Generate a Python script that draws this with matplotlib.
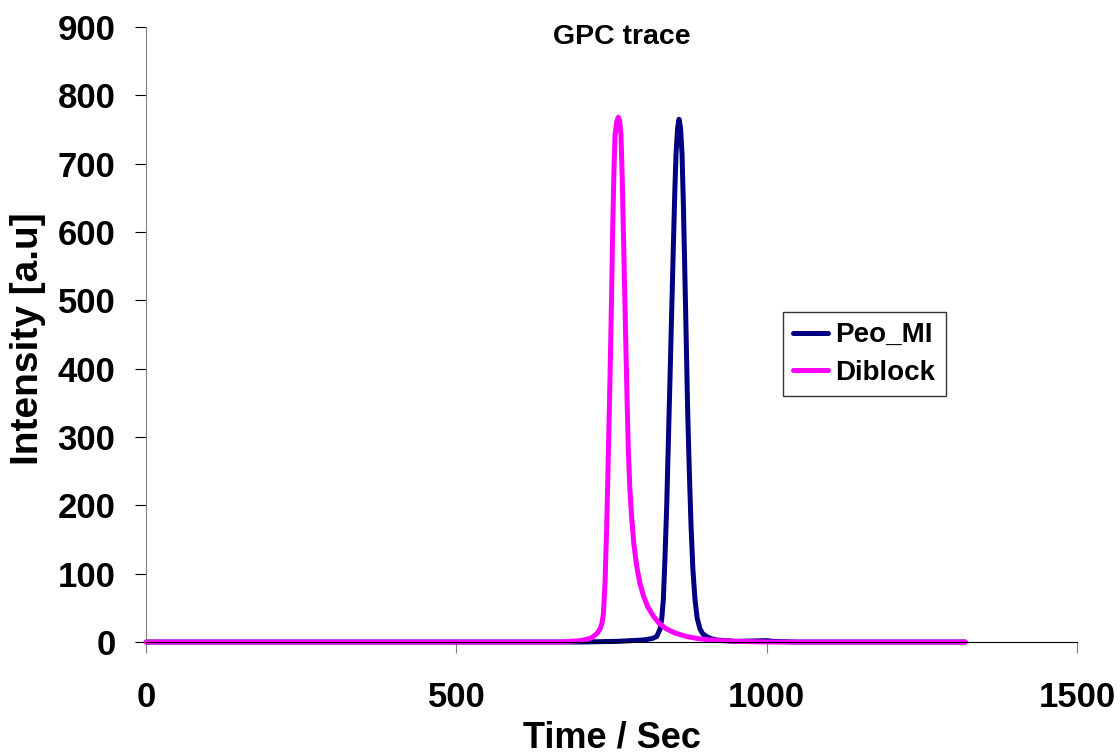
import matplotlib.pyplot as plt

plt.rcParams['font.family'] = ['Liberation Sans', 'DejaVu Sans']
plt.rcParams['font.weight'] = 'bold'

# Peo_MI trace (time in s, intensity in a.u.)
peo_t = [0, 100, 200, 300, 400, 500, 600, 700, 760, 801.3, 815, 822.8, 828.2, 831,
         833.5, 836, 838.9, 841.5, 844.3, 847, 849.6, 852, 853.9, 856.5, 858.8,
         861.2, 863.6, 865.8, 867.9, 870.3, 872.8, 875.5, 878.1, 881, 884.5,
         888, 892.6, 897, 903.4, 910, 919.5, 950, 1000, 1010, 1050, 1100, 1200, 1320]
peo_i = [0, 0, 0, 0, 0, 0, 0, 0, 1, 3, 5, 8, 19, 35,
         62, 120, 198, 290, 388, 485, 578, 660, 714, 752, 765,
         752, 714, 640, 551, 445, 334, 245, 171, 108, 62,
         35, 19, 12, 8, 5, 3, 1, 2, 1, 0, 0, 0, 0]

# Diblock trace
dib_t = [0, 100, 200, 300, 400, 500, 600, 667, 700, 715, 720.7, 727, 731.5, 734.5,
         736.9, 739.5, 742.3, 745, 747.6, 750, 751.9, 753.8, 755.6, 758.5, 761,
         763.2, 765.3, 767.2, 769, 771, 772.9, 775, 777.1, 779.5, 782.5, 786,
         790.6, 795.5, 801.3, 808, 817.4, 827, 838.9, 853, 871.2, 890, 908.7,
         950, 1000, 1100, 1200, 1320]
dib_i = [0, 0, 0, 0, 0, 0, 0, 0, 2, 5, 8, 13, 19, 27,
         41, 85, 171, 280, 388, 500, 605, 685, 741, 762, 768,
         762, 741, 680, 605, 522, 442, 358, 280, 225, 182, 143,
         111, 87, 68, 52, 38, 27, 19, 13, 8, 5, 3,
         1, 0, 0, 0, 0]

fig = plt.figure(figsize=(11.2, 7.54), dpi=100)
ax = fig.add_axes([0.1304, 0.1485, 0.8312, 0.8157])

ax.plot(peo_t, peo_i, color='#000080', linewidth=3.6, label='Peo_MI', clip_on=False,
        solid_capstyle='round', solid_joinstyle='round')
ax.plot(dib_t, dib_i, color='#FF00FF', linewidth=3.6, label='Diblock', clip_on=False,
        solid_capstyle='round', solid_joinstyle='round')

ax.set_xlim(0, 1500)
ax.set_ylim(0, 900)
ax.set_xticks([0, 500, 1000, 1500])
ax.set_yticks(range(0, 901, 100))

ax.spines['top'].set_visible(False)
ax.spines['right'].set_visible(False)
ax.spines['left'].set_color('#808080')
ax.spines['bottom'].set_color('black')

ax.tick_params(axis='both', direction='out', length=8, labelsize=25)
ax.tick_params(axis='y', pad=14)
ax.tick_params(axis='x', pad=20, color='#808080')
for lab in ax.get_xticklabels() + ax.get_yticklabels():
    lab.set_fontweight('bold')

ax.set_xlabel('Time / Sec', fontsize=26, fontweight='bold', va='center')
ax.xaxis.set_label_coords(0.5005, -0.156)
ax.set_ylabel('Intensity [a.u]', fontsize=28, fontweight='bold', va='center')
ax.yaxis.set_label_coords(-0.1267, 0.4927)
fig.text(622 / 1120, 1 - 37 / 754, 'GPC trace', fontsize=20.5, fontweight='bold',
         ha='center', va='center')

leg = ax.legend(loc='upper left', bbox_to_anchor=(783 / 1120, 1 - 312 / 754),
                bbox_transform=fig.transFigure, borderaxespad=0, fancybox=False,
                frameon=True, handlelength=1.26, handletextpad=0.25, borderpad=0.37,
                labelspacing=0.42, prop={'size': 20, 'weight': 'bold'})
leg.get_frame().set_edgecolor('black')
leg.get_frame().set_linewidth(1)

fig.savefig('out.png', dpi=100)
